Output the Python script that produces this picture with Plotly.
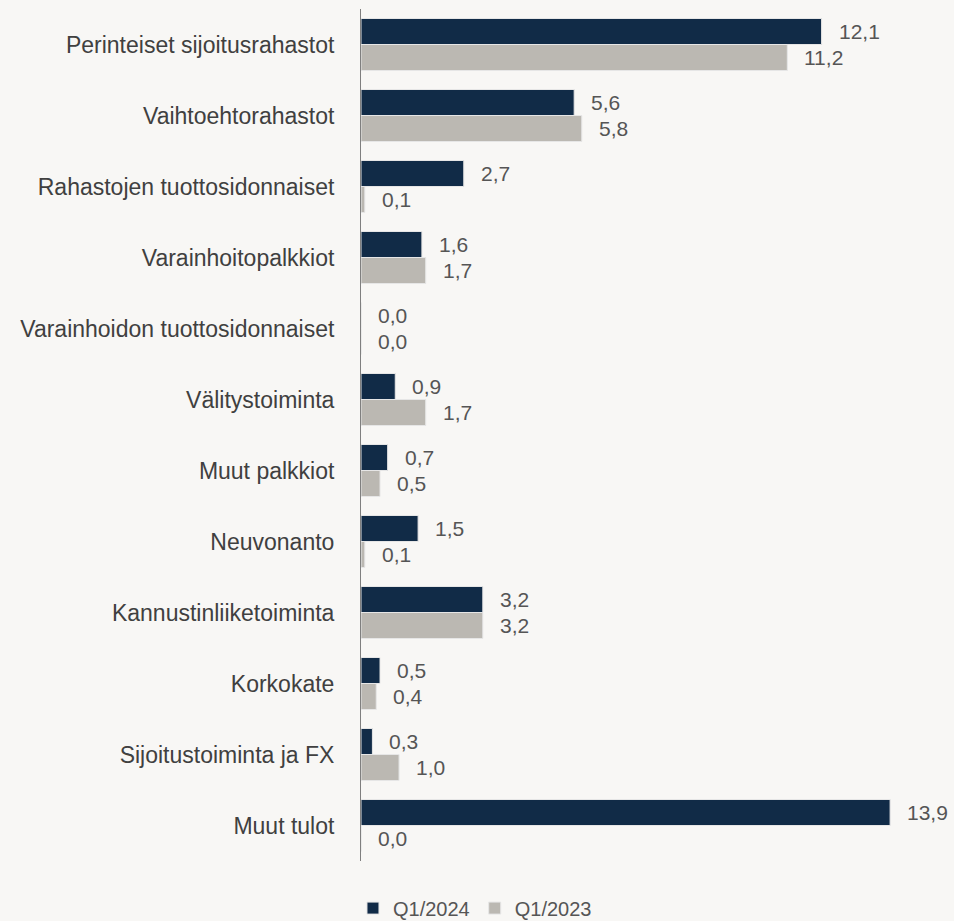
import plotly.graph_objects as go

# DATA
categories = [
    "Perinteiset sijoitusrahastot",
    "Vaihtoehtorahastot",
    "Rahastojen tuottosidonnaiset",
    "Varainhoitopalkkiot",
    "Varainhoidon tuottosidonnaiset",
    "Välitystoiminta",
    "Muut palkkiot",
    "Neuvonanto",
    "Kannustinliiketoiminta",
    "Korkokate",
    "Sijoitustoiminta ja FX",
    "Muut tulot",
]
q1_2024 = [12.1, 5.6, 2.7, 1.6, 0.0, 0.9, 0.7, 1.5, 3.2, 0.5, 0.3, 13.9]
q1_2023 = [11.2, 5.8, 0.1, 1.7, 0.0, 1.7, 0.5, 0.1, 3.2, 0.4, 1.0, 0.0]

series = [("Q1/2024", q1_2024, "#112b47", -13), ("Q1/2023", q1_2023, "#bbb8b2", 13)]

FONT = "Liberation Sans, Arial, sans-serif"
BG = "#f8f7f5"

# PLOT
fig = go.Figure()
for name, vals, color, shift in series:
    fig.add_trace(go.Bar(
        name=name, y=categories, x=vals, orientation="h",
        marker=dict(color=color, line=dict(color="#e6e6e6", width=1)),
        hoverinfo="skip",
    ))
    for cat, v in zip(categories, vals):
        fig.add_annotation(
            x=v, y=cat, text=f"{v:.1f}".replace(".", ","),
            xanchor="left", yanchor="middle", xshift=15, yshift=-shift,
            showarrow=False, font=dict(family=FONT, size=21, color="#555555"),
        )

# FORMAT
fig.update_layout(
    width=954, height=921,
    margin=dict(l=361, r=3, t=9, b=60, autoexpand=False),
    paper_bgcolor=BG, plot_bgcolor=BG,
    barmode="group", bargap=0.268, bargroupgap=0,
    showlegend=True,
    legend=dict(orientation="h", xref="container", x=0.37, xanchor="left",
                yref="container", y=0.014, yanchor="middle",
                font=dict(family=FONT, size=20, color="#555555"),
                itemwidth=30, bgcolor="rgba(0,0,0,0)"),
    font=dict(family=FONT, size=23, color="#404040"),
)
fig.update_xaxes(range=[0, 15.5], visible=False, showgrid=False, zeroline=False)
fig.update_yaxes(autorange="reversed", showline=True, linecolor="#7f7f7f", linewidth=1,
                 ticks="", showgrid=False, ticklabelstandoff=21,
                 tickfont=dict(family=FONT, size=23, color="#404040"))

fig.write_html("out.html", config={"displayModeBar": False},
               post_script=f"document.body.style.margin='0';document.body.style.background='{BG}';")
